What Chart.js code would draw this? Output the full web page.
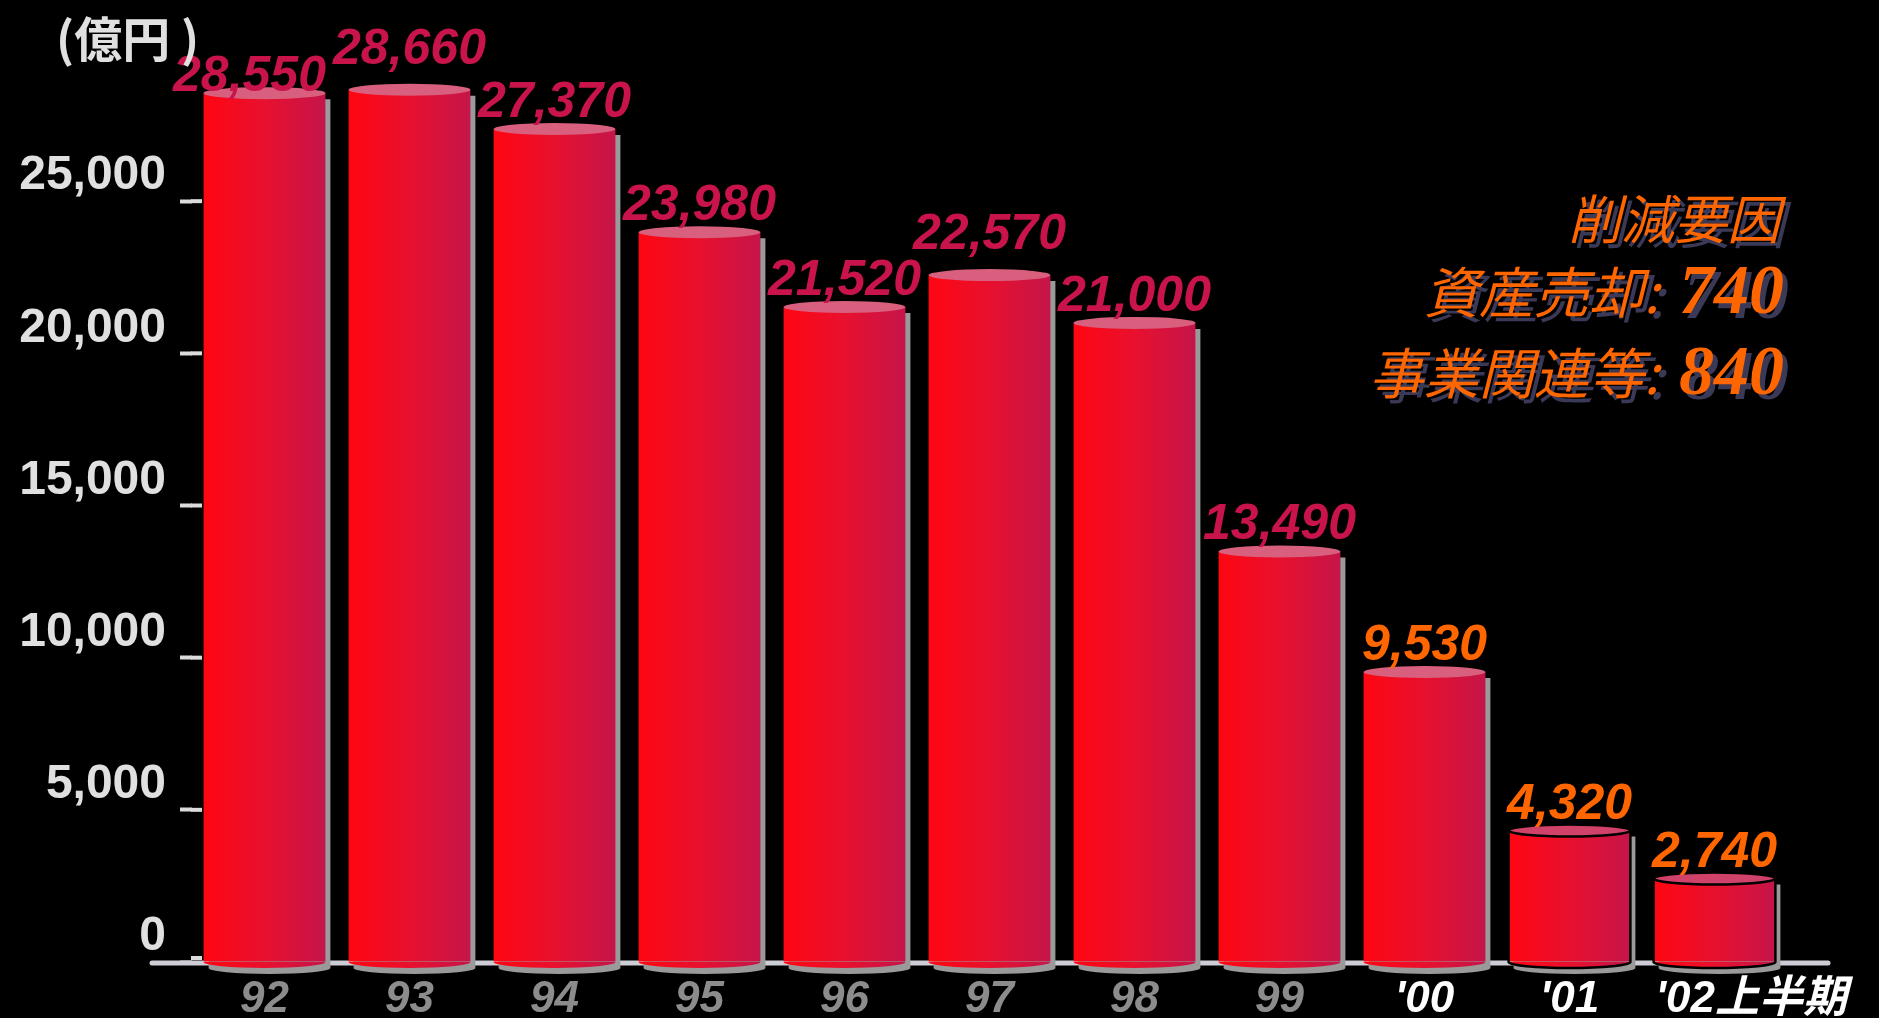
<!DOCTYPE html>
<html>
<head>
<meta charset="utf-8">
<script src="https://cdn.jsdelivr.net/npm/chart.js@4.4.1/dist/chart.umd.min.js"></script>
<style>
  html, body { margin: 0; padding: 0; background: #000; }
</style>
</head>
<body>
<canvas id="chart" width="1879" height="1018"></canvas>
<script>
// 年度ごとの残高（億円）
const years = ['92', '93', '94', '95', '96', '97', '98', '99', "'00", "'01", "'02上半期"];
const amounts = [28550, 28660, 27370, 23980, 21520, 22570, 21000, 13490, 9530, 4320, 2740];
const yTicks = [0, 5000, 10000, 15000, 20000, 25000];
const unitLabel = '(億円 )';

// 右上の注記
const noteTitle = '削減要因';
const noteRows = ['資産売却:', '事業関連等:'];
const noteValues = ['740', '840'];

const RY = 6; // 円柱の楕円の半径（縦）
const sans = '"Liberation Sans", Arial, "Noto Sans CJK JP", sans-serif';
const cjk = '"Noto Sans CJK JP", "Liberation Sans", sans-serif';
// 重なりを避けるためのラベルのずらし [dx, dy]
const labelNudge = { 0: [-15, 10], 1: [0, -14], 5: [0, -14] };

// 棒ごとの横グラデーション
function barGradient(ctx, x, half) {
    const g = ctx.createLinearGradient(x - half, 0, x + half, 0);
    g.addColorStop(0, '#ff0612');
    g.addColorStop(0.5, '#e8102e');
    g.addColorStop(1, '#c5154a');
    return g;
}

function barFill(c) {
    const chart = c.chart;
    if (!chart.chartArea) return '#e8102e';
    const xs = chart.scales.x;
    const half = xs.width / years.length * 0.84 / 2;
    return barGradient(chart.ctx, xs.getPixelForValue(c.dataIndex), half);
}

function shadowText(ctx, text, x, y) {
    ctx.fillStyle = '#3a3a58';
    ctx.fillText(text, x + 5, y + 5);
    ctx.fillStyle = '#ff6600';
    ctx.fillText(text, x, y);
}

const cylinders = {
    id: 'cylinders',
    beforeDatasetsDraw(chart) {
        const { ctx, chartArea } = chart;
        const ys = chart.scales.y;
        const base = ys.getPixelForValue(0);
        ctx.save();
        // 横軸の線
        ctx.strokeStyle = '#cdcdd5';
        ctx.lineWidth = 5;
        ctx.lineCap = 'round';
        ctx.beginPath();
        ctx.moveTo(chartArea.left - 40, base + 1);
        ctx.lineTo(chartArea.right + 41, base + 1);
        ctx.stroke();
        // 目盛り線を棒の手前まで延長
        ctx.strokeStyle = '#dcdcdc';
        ctx.lineWidth = 4;
        ctx.lineCap = 'butt';
        yTicks.forEach(v => {
            const y = ys.getPixelForValue(v) - (v === 0 ? 4 : 0);
            ctx.beginPath();
            ctx.moveTo(chartArea.left - 1, y);
            ctx.lineTo(chartArea.left + 10, y);
            ctx.stroke();
        });
        // 影
        ctx.fillStyle = '#9a9a9a';
        chart.getDatasetMeta(0).data.forEach(bar => {
            const half = bar.width / 2;
            ctx.beginPath();
            ctx.moveTo(bar.x - half + 5, bar.y + 6);
            ctx.lineTo(bar.x + half + 5, bar.y + 6);
            ctx.lineTo(bar.x + half + 5, base + 6);
            ctx.ellipse(bar.x + 5, base + 6, half, RY, 0, 0, Math.PI);
            ctx.closePath();
            ctx.fill();
        });
        ctx.restore();
    },
    afterDatasetsDraw(chart) {
        const { ctx } = chart;
        const ys = chart.scales.y;
        const base = ys.getPixelForValue(0);
        ctx.save();
        chart.getDatasetMeta(0).data.forEach((bar, i) => {
            const half = bar.width / 2;
            const outlined = i >= 9;
            // 底の楕円
            ctx.fillStyle = barGradient(ctx, bar.x, half);
            ctx.beginPath();
            ctx.ellipse(bar.x, base, half, RY, 0, 0, Math.PI);
            ctx.closePath();
            ctx.fill();
            if (outlined) {
                ctx.strokeStyle = '#000';
                ctx.lineWidth = 2.5;
                ctx.beginPath();
                ctx.moveTo(bar.x - half, bar.y);
                ctx.lineTo(bar.x - half, base);
                ctx.ellipse(bar.x, base, half, RY, 0, Math.PI, 0, true);
                ctx.lineTo(bar.x + half, bar.y);
                ctx.stroke();
            }
            // 上面の楕円
            ctx.fillStyle = outlined ? '#d0426a' : '#d8607e';
            ctx.beginPath();
            ctx.ellipse(bar.x, bar.y, half, RY, 0, 0, Math.PI * 2);
            ctx.fill();
            if (outlined) ctx.stroke();

            // 数値ラベル
            const [dx, dy] = labelNudge[i] || [0, 0];
            ctx.font = 'italic bold 50px ' + sans;
            ctx.textAlign = 'center';
            ctx.textBaseline = 'alphabetic';
            ctx.fillStyle = i >= 8 ? '#ff6600' : '#c8144a';
            ctx.fillText(amounts[i].toLocaleString('en-US'), bar.x + dx, bar.y - 12 + dy);

            // 年度ラベル
            ctx.font = 'italic bold 44px ' + sans;
            ctx.fillStyle = i >= 8 ? '#ffffff' : '#8c8c8c';
            const w = ctx.measureText(years[i]).width;
            if (w > bar.width) {
                ctx.textAlign = 'left';
                ctx.fillText(years[i], bar.x - half + 2, 1012);
            } else {
                ctx.fillText(years[i], bar.x, 1012);
            }
        });

        // 単位
        ctx.font = 'bold 48px ' + cjk;
        ctx.textAlign = 'left';
        ctx.fillStyle = '#e0e0e0';
        ctx.fillText(unitLabel, 56, 57);

        // 注記
        const right = 1784;
        ctx.textAlign = 'right';
        ctx.font = 'italic 53px ' + cjk;
        shadowText(ctx, noteTitle, right - 4, 239);
        const baselines = [313, 394];
        noteRows.forEach((row, k) => {
            ctx.font = 'italic bold 70px "Liberation Serif", "Times New Roman", serif';
            const vw = ctx.measureText(noteValues[k]).width;
            shadowText(ctx, noteValues[k], right, baselines[k]);
            ctx.font = 'italic 55px ' + cjk;
            shadowText(ctx, row, right - vw - 20, baselines[k]);
        });
        ctx.restore();
    }
};

new Chart(document.getElementById('chart'), {
    type: 'bar',
    data: {
        labels: years,
        datasets: [{
            data: amounts,
            backgroundColor: barFill,
            borderWidth: 0,
            barPercentage: 0.84,
            categoryPercentage: 1
        }]
    },
    options: {
        responsive: false,
        animation: false,
        devicePixelRatio: 1,
        layout: { padding: { top: 49, right: 92, bottom: 0, left: 0 } },
        plugins: {
            legend: { display: false },
            tooltip: { enabled: false }
        },
        scales: {
            x: {
                grid: { display: false },
                border: { display: false },
                ticks: { display: false },
                afterFit: s => { s.height = 56; }
            },
            y: {
                min: 0,
                max: 30000,
                afterBuildTicks: s => { s.ticks = yTicks.map(v => ({ value: v })); },
                afterFit: s => { s.width = 192; },
                border: { display: false },
                grid: {
                    drawOnChartArea: false,
                    tickLength: 12,
                    tickWidth: 4,
                    tickColor: '#dcdcdc'
                },
                ticks: {
                    color: '#e0e0e0',
                    padding: 14,
                    labelOffset: -25,
                    font: { family: sans, size: 48, weight: 'bold' },
                    callback: v => v.toLocaleString('en-US')
                }
            }
        }
    },
    plugins: [cylinders]
});
</script>
</body>
</html>
